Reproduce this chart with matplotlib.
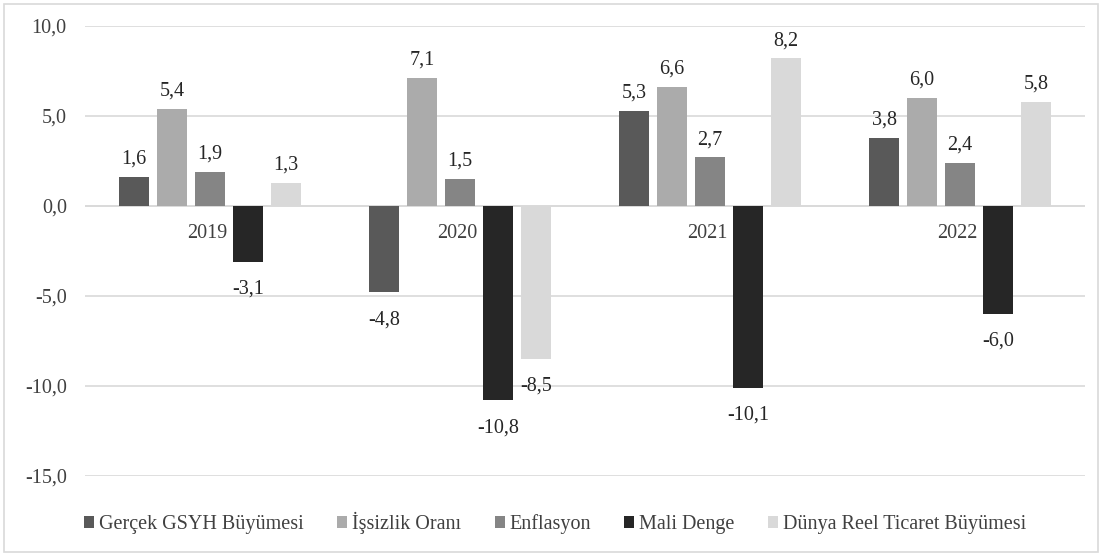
import numpy as np
import matplotlib.pyplot as plt
from matplotlib.patches import Rectangle

# Data
years = ["2019", "2020", "2021", "2022"]
series_names = ["Gerçek GSYH Büyümesi", "İşsizlik Oranı", "Enflasyon", "Mali Denge",
                "Dünya Reel Ticaret Büyümesi"]
gsyh = [1.6, -4.8, 5.3, 3.8]
issizlik = [5.4, 7.1, 6.6, 6.0]
enflasyon = [1.9, 1.5, 2.7, 2.4]
mali_denge = [-3.1, -10.8, -10.1, -6.0]
ticaret = [1.3, -8.5, 8.2, 5.8]
yticks = [10, 5, 0, -5, -10, -15]

colors = ["#595959", "#ababab", "#858585", "#262626", "#d9d9d9"]
FS = 14.5

plt.rcParams['font.family'] = 'serif'
plt.rcParams['font.serif'] = ['Liberation Serif', 'DejaVu Serif']

fig = plt.figure(figsize=(11.02, 5.56), dpi=100)
ax = fig.add_axes([0.077, 0.144, 0.9077, 0.8092])

fig.patches.append(Rectangle((0.004, 0.007), 0.992, 0.986, transform=fig.transFigure,
                             fill=False, edgecolor="#d9d9d9", linewidth=1.2))

x = np.arange(len(years))
width = 0.12
step = 0.152
all_series = [gsyh, issizlik, enflasyon, mali_denge, ticaret]
for i, (vals, name, c) in enumerate(zip(all_series, series_names, colors)):
    pos = x + (i - 2) * step
    ax.bar(pos, vals, width=width, color=c, label=name, zorder=3)
    for px, v in zip(pos, vals):
        lbl = f"{v:.1f}".replace(".", ",")
        if v >= 0:
            ax.annotate(lbl, (px, v), xytext=(0, 6), textcoords="offset points",
                        ha="center", va="bottom", fontsize=FS, color="#262626")
        else:
            ax.annotate(lbl, (px, v), xytext=(0, -13), textcoords="offset points",
                        ha="center", va="top", fontsize=FS, color="#262626")

# category labels sit just under the zero line
for xi, yr in zip(x, years):
    ax.annotate(yr, (xi, 0), xytext=(-2, -13), textcoords="offset points",
                ha="center", va="top", fontsize=FS, color="#404040", zorder=2)

ax.set_xlim(-0.5, len(years) - 0.5)
ax.set_ylim(-15, 10)
ax.set_yticks(yticks)
ax.set_yticklabels([f"{t:.1f}".replace(".", ",") for t in yticks], fontsize=FS, color="#404040")
ax.tick_params(axis="y", length=0, pad=13)
ax.set_xticks([])
ax.grid(axis="y", color="#d9d9d9", linewidth=1.2, zorder=0)
ax.axhline(0, color="#d9d9d9", linewidth=1.2, zorder=1)
for s in ax.spines.values():
    s.set_visible(False)

ax.legend(loc="upper left", bbox_to_anchor=(-0.019, -0.04), ncol=5, frameon=False,
          fontsize=FS, handlelength=0.5, handleheight=0.5, handletextpad=0.25,
          columnspacing=1.65, labelcolor="#404040")

fig.savefig("out.png", dpi=100)
